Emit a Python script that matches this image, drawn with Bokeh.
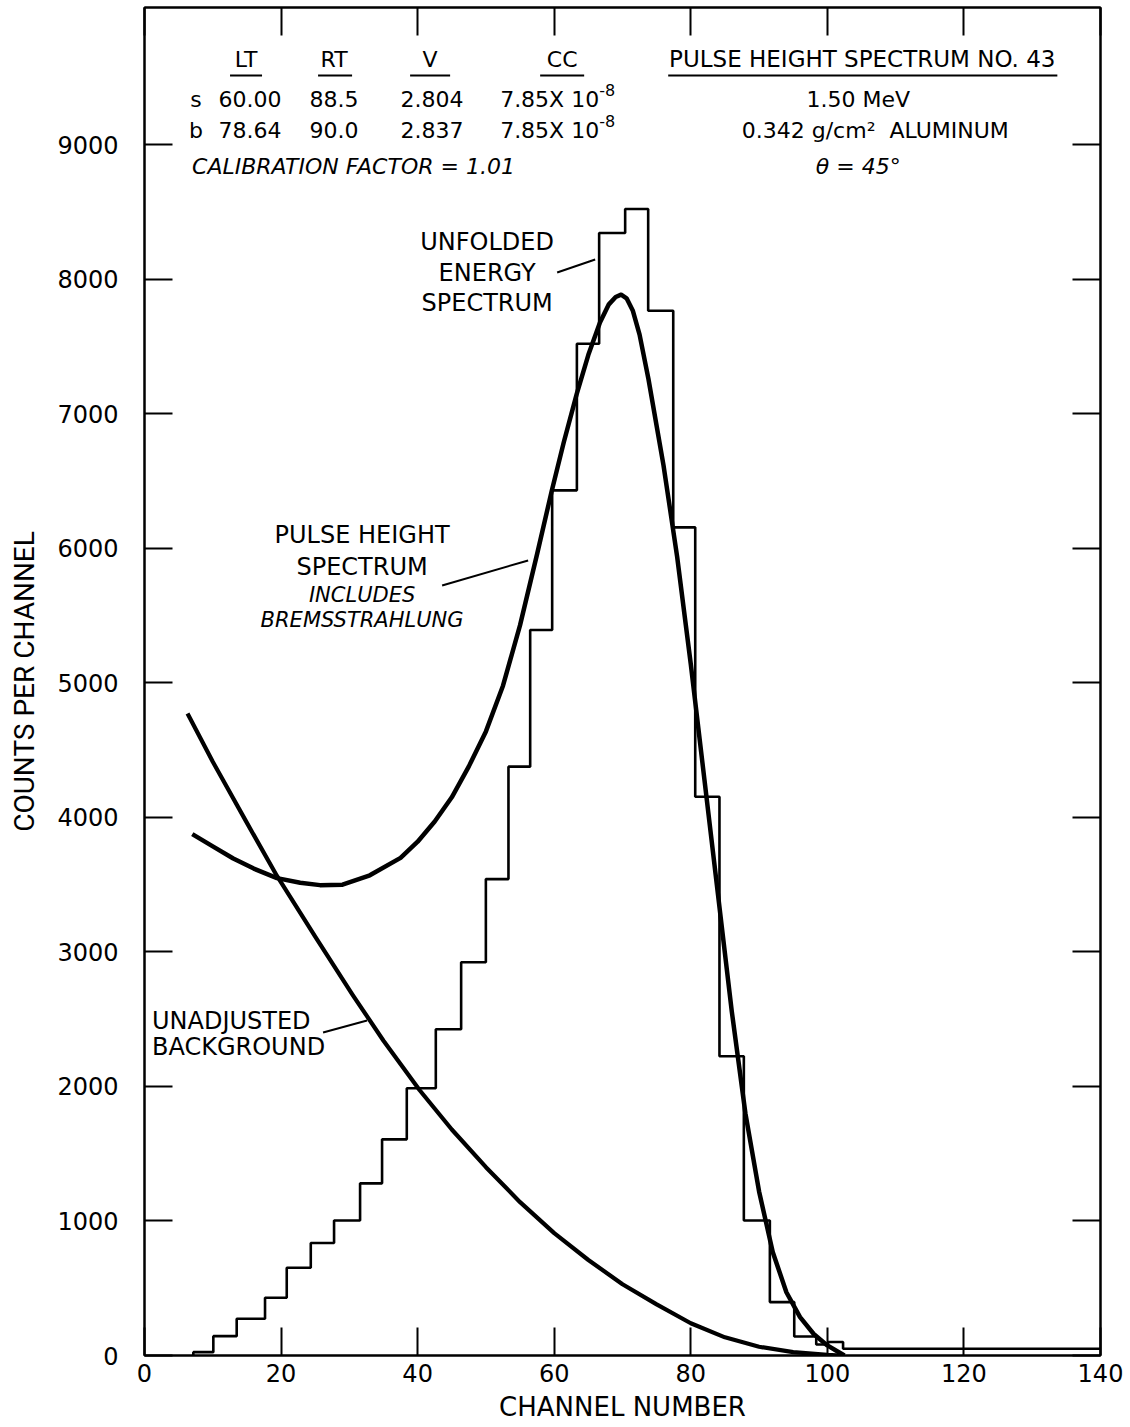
from bokeh.plotting import figure
from bokeh.models import LinearAxis, FixedTicker, Range1d
from bokeh.embed import file_html
from bokeh.resources import INLINE
from bokeh.core.properties import value

# ---------------- data ----------------
x_ticks = [0, 20, 40, 60, 80, 100, 120, 140]
y_ticks = [0, 1000, 2000, 3000, 4000, 5000, 6000, 7000, 8000, 9000]

# unfolded energy spectrum (histogram): bin edges (channel) and counts per bin
bin_edges = [7.15, 10.08, 13.5, 17.65, 20.83, 24.35, 27.76, 31.57, 34.79, 38.41,
             42.66, 46.37, 49.99, 53.3, 56.48, 59.7, 63.32, 66.58, 70.39, 73.76,
             77.43, 80.65, 84.2, 87.77, 91.58, 95.15, 98.37, 100.1, 102.3, 140.0]
bin_counts = [25, 144, 273, 429, 652, 836, 1004, 1280, 1607, 1987,
              2426, 2924, 3542, 4378, 5394, 6432, 7522, 8346, 8524, 7767,
              6157, 4154, 2225, 1004, 397, 141, 82, 100, 50]

# pulse height spectrum (includes bremsstrahlung)
pulse_channel = [7, 10, 13, 16, 19.4, 22.8, 25.7, 29, 33, 37.5, 40, 42.5, 45, 47.5,
                 50, 52.5, 55, 57.5, 59.6, 61.4, 63.3, 65, 66.7, 68, 69, 69.8, 70.6,
                 71.5, 72.5, 73.8, 76, 78, 80, 82, 84, 86, 88, 90, 92, 94, 96, 98, 100,
                 101.5, 102.5]
pulse_counts = [3876, 3785, 3695, 3620, 3549, 3515, 3497, 3500, 3570, 3700, 3820, 3970,
                4150, 4380, 4640, 4980, 5430, 5960, 6420, 6790, 7150, 7440, 7680, 7815,
                7870, 7887, 7860, 7770, 7590, 7260, 6620, 5940, 5140, 4280, 3420, 2560,
                1800, 1220, 770, 470, 285, 160, 75, 30, 0]

# unadjusted background
bg_channel = [6.3, 10, 15, 19.4, 25, 30.5, 35, 40.3, 45, 50, 55, 60, 65, 70,
              75, 80, 85, 90, 95, 100, 102]
bg_counts = [4773, 4414, 3960, 3565, 3115, 2680, 2340, 1972, 1680, 1400, 1140, 910,
             710, 530, 380, 240, 135, 65, 25, 5, 0]

# ---------------- figure ----------------
X0, Y0, SX, SY = 144.5, 1355.0, 6.826, 0.1345   # reference pixel frame mapping (annotations)


def dx(px):
    return (px - X0) / SX


def dy(py):
    return (Y0 - py) / SY


FONT = "DejaVu Sans"

p = figure(frame_width=956, frame_height=1348,
           x_range=Range1d(0, 140), y_range=Range1d(0, 10022),
           output_backend="svg", toolbar_location=None,
           min_border_left=144, min_border_right=30, min_border_top=7, min_border_bottom=72,
           background_fill_color="white", border_fill_color="white")
p.grid.visible = False
p.outline_line_color = "black"
p.outline_line_width = 2

for ax, ticks in ((p.xaxis[0], x_ticks), (p.yaxis[0], y_ticks)):
    ax.ticker = FixedTicker(ticks=ticks)
    ax.major_tick_in = 28
    ax.major_tick_out = 0
    ax.major_tick_line_width = 2
    ax.minor_tick_line_color = None
    ax.axis_line_width = 2
    ax.major_label_text_font = FONT
    ax.major_label_text_font_size = "24px"
    ax.major_label_text_color = "black"
    ax.axis_label_text_font_style = "normal"
    ax.axis_label_text_color = "black"

p.xaxis.axis_label = "CHANNEL NUMBER"
p.xaxis.axis_label_text_font = FONT
p.xaxis.axis_label_text_font_size = "26px"
p.xaxis.major_label_standoff = 8
p.xaxis.axis_label_standoff = 7

p.yaxis.axis_label = "COUNTS PER CHANNEL"
p.yaxis.axis_label_text_font = "Roboto"
p.yaxis.axis_label_text_font_size = "28px"
p.yaxis.major_label_standoff = 26
p.yaxis.axis_label_standoff = 13

for loc, ticks in (("above", x_ticks), ("right", y_ticks)):
    ax = LinearAxis(ticker=FixedTicker(ticks=ticks), major_tick_in=28, major_tick_out=0,
                    major_tick_line_width=2, minor_tick_line_color=None, axis_line_width=2,
                    major_label_text_font_size="0px", major_label_text_color=None,
                    major_label_standoff=0)
    p.add_layout(ax, loc)

# histogram as a step outline built from edges and counts
step_x = [bin_edges[0]] + bin_edges
step_y = [0] + bin_counts + [bin_counts[-1]]
p.step(step_x, step_y, mode="after", line_color="black", line_width=2.6)

p.line(pulse_channel, pulse_counts, line_color="black", line_width=4.5, line_join="round")
p.line(bg_channel, bg_counts, line_color="black", line_width=4.2, line_join="round")


# ---------------- annotations ----------------
def txt(px, py, s, size="22px", align="center", style="normal", font=FONT):
    p.text(x=[dx(px)], y=[dy(py)], text=[s], text_align=align, text_baseline="middle",
           text_font=value(font), text_font_size=size, text_font_style=style,
           text_color="black")


def seg(px0, py0, px1, py1, w=2):
    p.segment(x0=[dx(px0)], y0=[dy(py0)], x1=[dx(px1)], y1=[dy(py1)],
              line_color="black", line_width=w)


# header table
for cx, s in ((246, "LT"), (334, "RT"), (430, "V"), (562, "CC")):
    txt(cx, 59, s)
txt(862, 59, "PULSE HEIGHT SPECTRUM NO. 43", size="23px")
for a, b in ((230, 262), (318, 352), (410, 450), (540, 584), (668, 1057)):
    seg(a, 75, b, 75, 2)

rows = ((99, "s", "60.00", "88.5", "2.804"), (130, "b", "78.64", "90.0", "2.837"))
for py, lab, lt, rt, v in rows:
    txt(196, py, lab)
    txt(250, py, lt)
    txt(334, py, rt)
    txt(432, py, v)
    txt(500, py, "7.85X 10", align="left")
    txt(599, py - 9, "-8", size="16px", align="left")
txt(192, 166, "CALIBRATION FACTOR = 1.01", align="left", style="italic")

txt(858, 99, "1.50 MeV")
txt(875, 130, "0.342 g/cm\u00b2\u00a0 ALUMINUM")
txt(858, 166, "\u03b8 = 45\u00b0", style="italic")

# curve labels
txt(487, 242, "UNFOLDED", size="24px")
txt(487, 273, "ENERGY", size="24px")
txt(487, 303, "SPECTRUM", size="24px")
seg(557, 272, 595, 259)

txt(362, 535, "PULSE HEIGHT", size="24px")
txt(362, 567, "SPECTRUM", size="24px")
txt(362, 595, "INCLUDES", size="21px", style="italic")
txt(362, 620, "BREMSSTRAHLUNG", size="21px", style="italic")
seg(442, 585, 528, 560)

txt(152, 1021, "UNADJUSTED", size="24px", align="left")
txt(152, 1047, "BACKGROUND", size="24px", align="left")
seg(323, 1032, 367, 1020)

open("out.html", "w").write(file_html(p, INLINE))
